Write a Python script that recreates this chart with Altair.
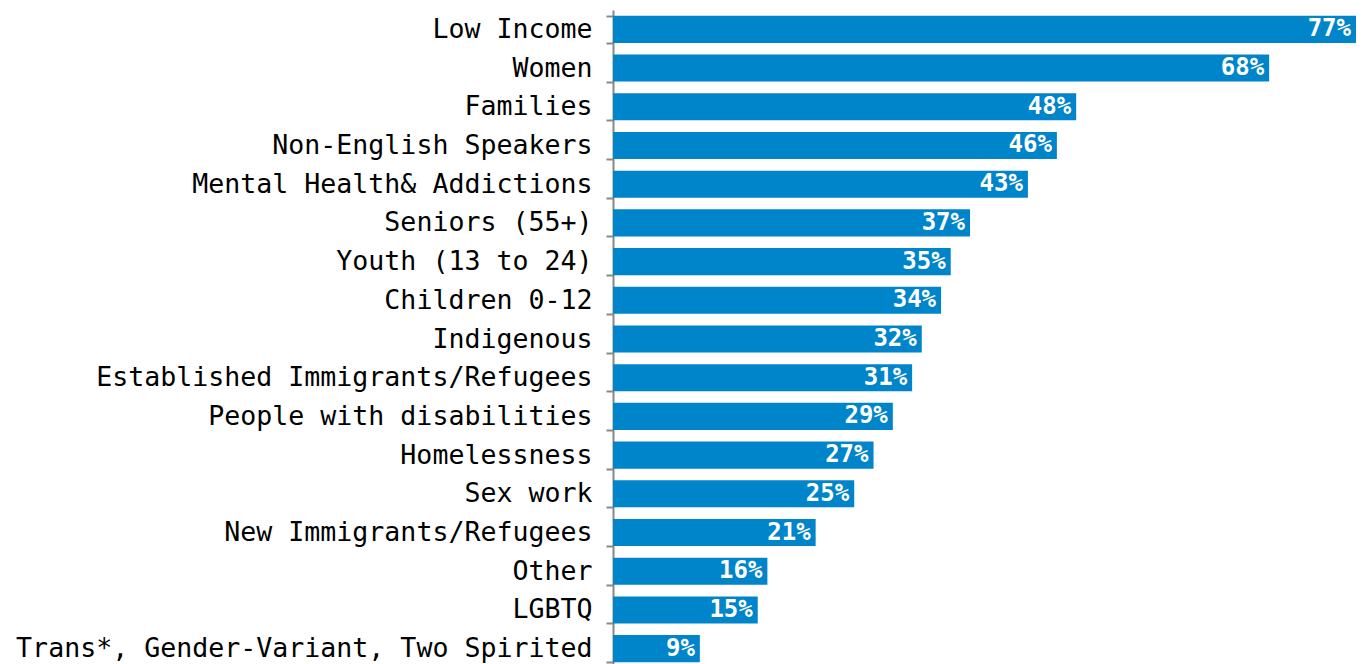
import altair as alt
import pandas as pd

categories = [
    "Low Income",
    "Women",
    "Families",
    "Non-English Speakers",
    "Mental Health& Addictions",
    "Seniors (55+)",
    "Youth (13 to 24)",
    "Children 0-12",
    "Indigenous\u00a0",
    "Established Immigrants/Refugees",
    "People with disabilities",
    "Homelessness",
    "Sex work",
    "New Immigrants/Refugees",
    "Other",
    "LGBTQ",
    "Trans*, Gender-Variant, Two Spirited",
]
values = [77, 68, 48, 46, 43, 37, 35, 34, 32, 31, 29, 27, 25, 21, 16, 15, 9]
labels = [f"{v}%" for v in values]

df = pd.DataFrame({"group": categories, "pct": values, "label": labels})

y_enc = alt.Y(
    "group:N",
    sort=None,
    title=None,
    scale=alt.Scale(paddingInner=0.3, paddingOuter=0.15),
    axis=alt.Axis(
        labelFont="DejaVu Sans Mono",
        labelFontSize=26.6,
        labelColor="#000000",
        labelPadding=14,
        labelLimit=0,
        tickSize=7,
        tickWidth=2,
        tickColor="#888888",
        domainColor="#888888",
        domainWidth=2,
        tickBand="extent",
    ),
)
x_enc = alt.X(
    "pct:Q",
    scale=alt.Scale(domain=[0, 77], nice=False, zero=True),
    axis=None,
)

base = alt.Chart(df).encode(y=y_enc, x=x_enc)

bars = base.mark_bar(color="#0085CA")
text = base.mark_text(
    align="right",
    baseline="middle",
    dx=-5,
    color="white",
    font="DejaVu Sans Mono",
    fontSize=24,
    fontWeight="bold",
).encode(text="label:N")

chart = (
    (bars + text)
    .properties(
        width=743,
        height=658,
        padding={"left": 605, "top": 2, "right": 0, "bottom": 0},
        autosize=alt.AutoSizeParams(type="none"),
    )
    .configure_view(stroke=None)
)

chart.save("out.html", embed_options={"renderer": "svg", "actions": False})
